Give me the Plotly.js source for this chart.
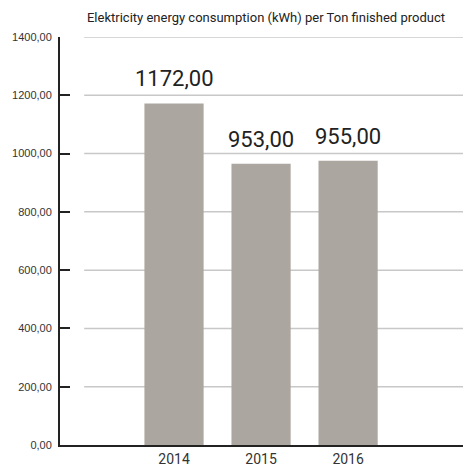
<!DOCTYPE html>
<html>
<head>
<meta charset="utf-8">
<script src="https://cdn.plot.ly/plotly-3.0.1.min.js"></script>
<style>html,body{margin:0;padding:0;background:#fff;}#chart{width:465px;height:469px;}</style>
</head>
<body>
<div id="chart"></div>
<script>
const years = ["2014", "2015", "2016"];
const barValues = [1172, 965, 975];
const labelValues = [1172, 953, 955];
const tickValues = [0, 200, 400, 600, 800, 1000, 1200, 1400];
const titleText = "Elektricity energy consumption (kWh) per Ton finished product";

function fmt(v) { return v.toFixed(2).replace(".", ","); }

const trace = {
  type: "bar",
  x: years,
  y: barValues,
  marker: { color: "#aba69f" },
  hoverinfo: "skip"
};

const gridShapes = tickValues.filter(v => v > 0).map(v => ({
  type: "line", xref: "paper", yref: "y",
  x0: 0.06, x1: 1, y0: v, y1: v,
  line: { color: "#c8c8c8", width: 1.5 },
  layer: "below"
}));

const annotations = years.map((yr, i) => ({
  x: i, y: barValues[i], xref: "x", yref: "y",
  text: fmt(labelValues[i]),
  showarrow: false, yanchor: "bottom", yshift: 10,
  font: { family: "Roboto, sans-serif", size: 22, color: "#222" }
}));

const layout = {
  width: 465, height: 469,
  margin: { l: 60, r: 2, t: 37, b: 24 },
  paper_bgcolor: "#fff", plot_bgcolor: "#fff",
  showlegend: false,
  bargap: 0.32,
  title: {
    text: titleText,
    font: { family: "Roboto, sans-serif", size: 13, color: "#222" },
    x: 0.572, xanchor: "center", y: 0.962, yanchor: "middle"
  },
  xaxis: {
    type: "category",
    range: [-1.31, 3.32],
    showline: true, linecolor: "#222", linewidth: 2,
    ticks: "", showgrid: false, zeroline: false,
    tickfont: { family: "Roboto, sans-serif", size: 14, color: "#333" },
    fixedrange: true
  },
  yaxis: {
    range: [0, 1400],
    tickvals: tickValues,
    ticktext: tickValues.map(fmt),
    showline: true, linecolor: "#222", linewidth: 2,
    ticks: "inside", ticklen: 10, tickwidth: 2, tickcolor: "#222",
    showgrid: false, zeroline: false,
    ticklabelstandoff: 4,
    tickfont: { family: "Liberation Sans, Arial, sans-serif", size: 11, color: "#333" },
    fixedrange: true
  },
  shapes: gridShapes,
  annotations: annotations
};

Plotly.newPlot("chart", [trace], layout, { displayModeBar: false, staticPlot: true });
</script>
</body>
</html>
